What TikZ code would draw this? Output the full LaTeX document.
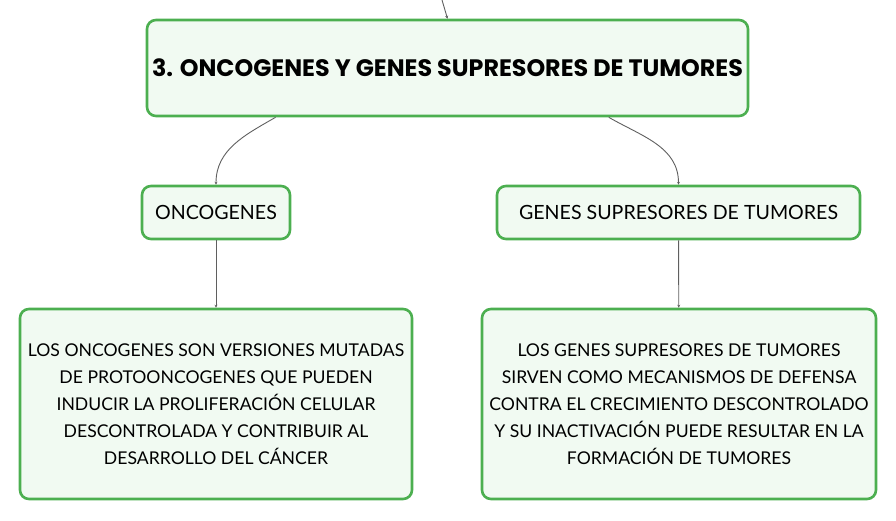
\documentclass[tikz,border=0pt]{standalone}
\usepackage{fontspec}
\setmainfont{Lato}
\newfontfamily\titlefont{Poppins}
\usetikzlibrary{positioning}
\usetikzlibrary{arrows.meta}
\definecolor{boxline}{RGB}{76,175,80}
\definecolor{boxfill}{RGB}{241,250,242}
\definecolor{link}{RGB}{95,95,95}
\begin{document}
\begin{tikzpicture}[x=1pt,y=-1pt,
        box/.style={draw=boxline, fill=boxfill, line width=2.6pt,
          rounded corners=9pt, align=center, inner sep=0pt},
        tip/.style={-{Stealth[length=3pt,width=3pt]}, draw=link, line width=0.9pt}]
        \useasboundingbox (0,0) rectangle (896,521);
        \node[box, minimum width=601pt, minimum height=96pt,
          font=\titlefont\bfseries\fontsize{23.8}{28}\selectfont] (title) at (447.5,68)
          {3. ONCOGENES Y GENES SUPRESORES DE TUMORES};
        \node[box, minimum width=148pt, minimum height=53pt,
          font=\fontsize{19.6}{22}\selectfont] (onc) at (216,212.5) {ONCOGENES};
        \node[box, minimum width=363pt, minimum height=53pt,
          font=\fontsize{19.6}{22}\selectfont] (sup) at (678.5,212.5) {GENES SUPRESORES DE TUMORES};
        \node[box, minimum width=392pt, minimum height=190pt,
          font=\fontsize{17.6}{27}\selectfont] (oncdef) at (216,404)
          {LOS ONCOGENES SON VERSIONES MUTADAS\\DE PROTOONCOGENES QUE PUEDEN\\INDUCIR LA PROLIFERACIÓN CELULAR\\DESCONTROLADA Y CONTRIBUIR AL\\DESARROLLO DEL CÁNCER};
        \node[box, minimum width=394pt, minimum height=190pt,
          font=\fontsize{17.6}{27}\selectfont] (supdef) at (679,404)
          {LOS GENES SUPRESORES DE TUMORES\\SIRVEN COMO MECANISMOS DE DEFENSA\\CONTRA EL CRECIMIENTO DESCONTROLADO\\Y SU INACTIVACIÓN PUEDE RESULTAR EN LA\\FORMACIÓN DE TUMORES};
        \coordinate (parent) at (442,0);
        % links
        \draw[tip] (parent) -- (title.north);
        \draw[tip] (title.196.5) to[out=-150,in=90] (onc.north);
        \draw[tip] (title.343.5) to[out=-30,in=90] (sup.north);
        \draw[tip] (onc) -- (oncdef);
        \draw[tip] (sup) -- (supdef);
    \end{tikzpicture}
\end{document}
